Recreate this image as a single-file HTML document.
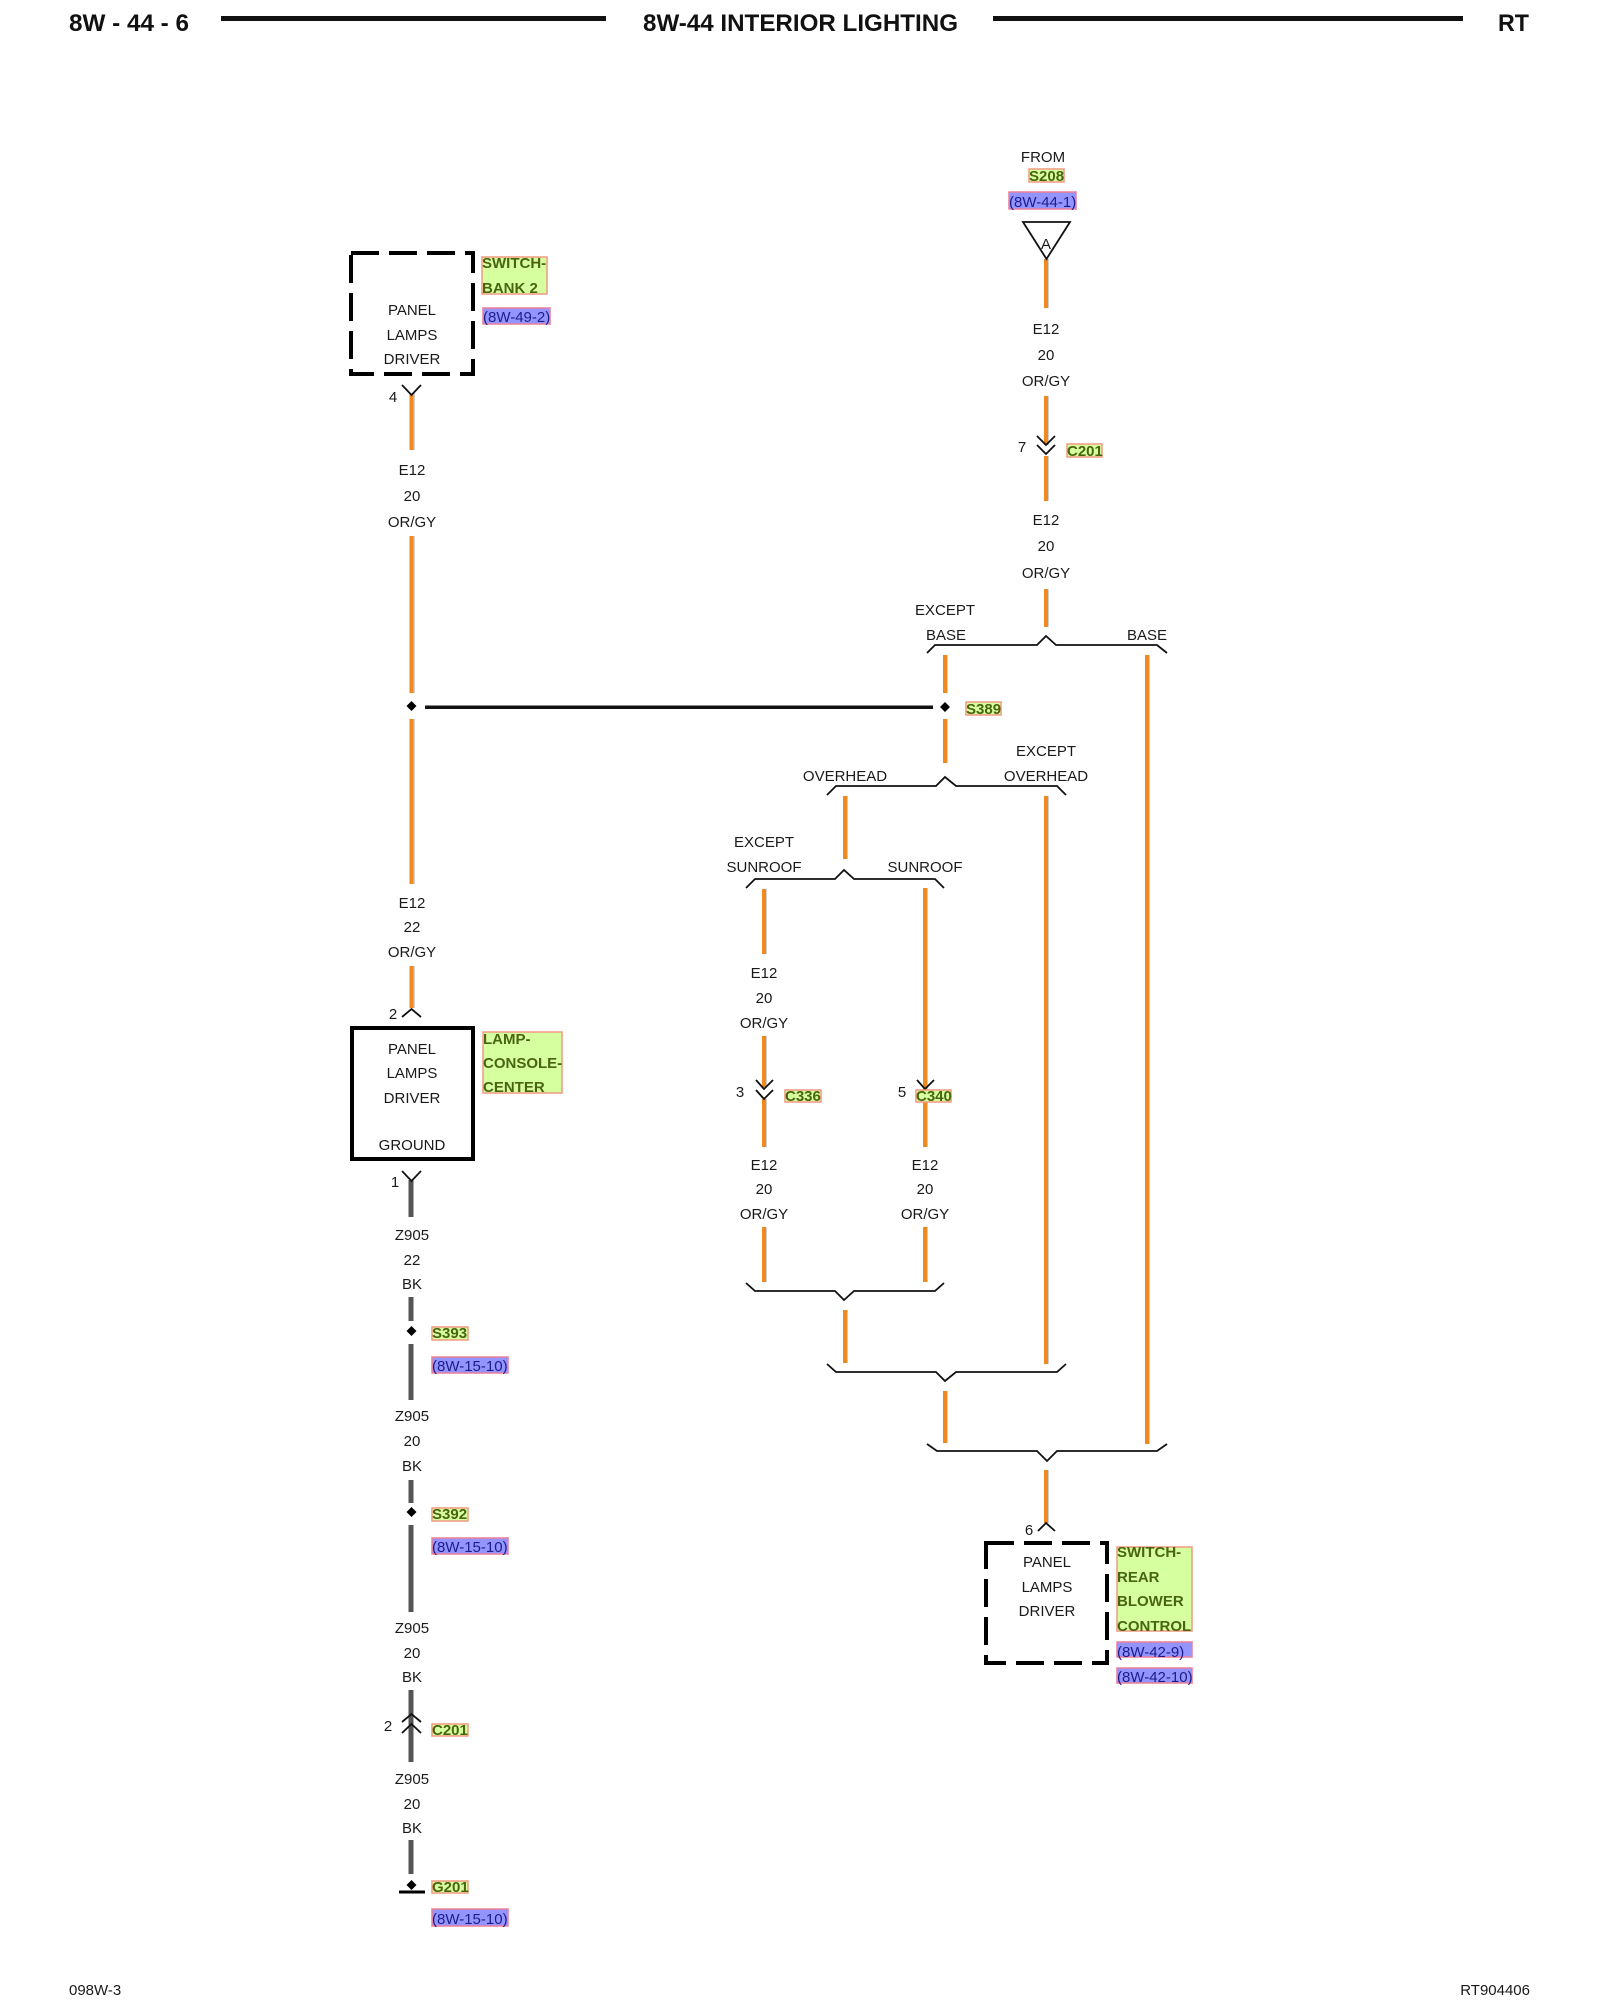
<!DOCTYPE html>
<html><head><meta charset="utf-8"><style>
html,body{margin:0;padding:0;background:#fff}
svg{display:block}
text{font-family:"Liberation Sans",sans-serif;font-size:15px;fill:#1a1a1a}
.m{text-anchor:middle}
.g{font-weight:bold;fill:#4a6410}
.b{fill:#1c1c8c}
.h{font-weight:bold;font-size:24px;fill:#111}
.or{stroke:#f08a1e;stroke-width:4;fill:none}
.sh{stroke:#cfcfcf;stroke-width:2;fill:none}
.bk{stroke:#555;stroke-width:5;fill:none}
.l{stroke:#111;stroke-width:1.8;fill:none}
.gb{fill:#d6ffa0;stroke:#f09a80;stroke-width:1.5}
.bb{fill:#9494ff;stroke:#ec7f9a;stroke-width:1.5}
.dash{fill:none;stroke:#000;stroke-width:4;stroke-dasharray:28 10}
</style></head><body>
<svg width="1600" height="2000" viewBox="0 0 1600 2000" xmlns="http://www.w3.org/2000/svg">
<rect width="1600" height="2000" fill="#fff"/>
<!-- header -->
<text class="h" x="69" y="31" textLength="120" lengthAdjust="spacingAndGlyphs">8W - 44 - 6</text>
<text class="h" x="643" y="31" textLength="315" lengthAdjust="spacingAndGlyphs">8W-44 INTERIOR LIGHTING</text>
<text class="h" x="1498" y="31" textLength="31" lengthAdjust="spacingAndGlyphs">RT</text>
<rect x="221" y="16" width="385" height="5" fill="#111"/>
<rect x="993" y="16" width="470" height="5" fill="#111"/>

<!-- shadows of orange wires -->
<path class="sh" d="M414 393V450M414 536V693M414 719V884M414 966V1008M1048 259V308M1048 396V445M1048 456V501M1048 589V627M947 655V693M947 719V763M1149 655V1444M1048 796V1364M847 796V859M766 889V954M766 1036V1087M766 1099V1147M766 1227V1282M927 888V1147M927 1227V1282M847 1310V1363M947 1391V1443M1048 1470V1523"/>
<!-- orange wires -->
<path class="or" d="M411.500 394V450M411.500 536V693M411.500 719V884M411.500 966V1008M1046 259V308M1046 396V445M1046 456V501M1046 589V627M945 655V693M945 719V763M1147 655V1444M1046 796V1364M845 796V859M764 889V954M764 1036V1087M764 1099V1147M764 1227V1282M925 888V1147M925 1227V1282M845 1310V1363M945 1391V1443M1046 1470V1523"/>
<!-- black wires -->
<path class="bk" d="M411 1180V1217M411 1297V1321M411 1344V1400M411 1480V1503M411 1525V1612M411 1690V1762M411 1840V1874"/>
<rect x="425" y="705.500" width="508" height="3.500" fill="#111"/>

<!-- boxes -->
<path class="dash" d="M351 253H473V374H351Z"/>
<rect x="352" y="1028" width="121" height="131" fill="none" stroke="#000" stroke-width="4"/>
<path class="dash" d="M986 1543H1107V1663H986Z"/>
<text class="m" x="412" y="315">PANEL</text><text class="m" x="412" y="340">LAMPS</text><text class="m" x="412" y="364">DRIVER</text>
<text class="m" x="412" y="1054">PANEL</text><text class="m" x="412" y="1078">LAMPS</text><text class="m" x="412" y="1103">DRIVER</text><text class="m" x="412" y="1150">GROUND</text>
<text class="m" x="1047" y="1567">PANEL</text><text class="m" x="1047" y="1592">LAMPS</text><text class="m" x="1047" y="1616">DRIVER</text>

<!-- connectors -->
<path class="l" d="M402 385L411.500 395L421 385M402 1017L411.500 1009L421 1017M402 1171L411.500 1181L421 1171M402 1722L411.500 1714L421 1722M402 1733L411.500 1724L421 1733"/>
<path class="l" d="M1037 436L1046 445L1055 436M1037 445L1046 454L1055 445M756 1080L764 1089L773 1080M756 1090L764 1099L773 1090M917 1080L925 1089L934 1080M1038 1531L1046 1523L1055 1531"/>
<path class="l" d="M1023 222H1070L1046.500 259Z" fill="#fff" stroke-width="2"/>
<text class="m" x="1046" y="249">A</text>
<!-- brackets -->
<path class="l" d="M927 653L935 645H1037L1046 636L1056 645H1157L1167 653"/>
<path class="l" d="M827 795L836 786H936L945 777L956 786H1057L1066 795"/>
<path class="l" d="M746 888L755 879H835L844 870L854 879H935L944 888"/>
<path class="l" d="M746 1283L755 1291H835L844 1300L854 1291H935L944 1283"/>
<path class="l" d="M827 1364L836 1372H936L945 1381L956 1372H1057L1066 1364"/>
<path class="l" d="M927 1444L937 1451H1037L1047 1461L1057 1451H1157L1167 1444"/>
<!-- diamonds -->
<path fill="#000" d="M411.500 701L416.500 706L411.500 711L406.500 706ZM945 702L950 707L945 712L940 707ZM411.500 1326L416.500 1331L411.500 1336L406.500 1331ZM411.500 1507L416.500 1512L411.500 1517L406.500 1512ZM411.500 1880L416.500 1885L411.500 1890L406.500 1885Z"/>
<rect x="399" y="1890.500" width="26" height="3" fill="#000"/>

<!-- wire labels -->
<text class="m" x="412" y="475">E12</text><text class="m" x="412" y="501">20</text><text class="m" x="412" y="527">OR/GY</text>
<text class="m" x="412" y="908">E12</text><text class="m" x="412" y="932">22</text><text class="m" x="412" y="957">OR/GY</text>
<text class="m" x="412" y="1240">Z905</text><text class="m" x="412" y="1265">22</text><text class="m" x="412" y="1289">BK</text>
<text class="m" x="412" y="1421">Z905</text><text class="m" x="412" y="1446">20</text><text class="m" x="412" y="1471">BK</text>
<text class="m" x="412" y="1633">Z905</text><text class="m" x="412" y="1658">20</text><text class="m" x="412" y="1682">BK</text>
<text class="m" x="412" y="1784">Z905</text><text class="m" x="412" y="1809">20</text><text class="m" x="412" y="1833">BK</text>
<text class="m" x="1043" y="162">FROM</text>
<text class="m" x="1046" y="334">E12</text><text class="m" x="1046" y="360">20</text><text class="m" x="1046" y="386">OR/GY</text>
<text class="m" x="1046" y="525">E12</text><text class="m" x="1046" y="551">20</text><text class="m" x="1046" y="578">OR/GY</text>
<text class="m" x="945" y="615">EXCEPT</text><text class="m" x="946" y="640">BASE</text><text class="m" x="1147" y="640">BASE</text>
<text class="m" x="1046" y="756">EXCEPT</text><text class="m" x="1046" y="781">OVERHEAD</text><text class="m" x="845" y="781">OVERHEAD</text>
<text class="m" x="764" y="847">EXCEPT</text><text class="m" x="764" y="872">SUNROOF</text><text class="m" x="925" y="872">SUNROOF</text>
<text class="m" x="764" y="978">E12</text><text class="m" x="764" y="1003">20</text><text class="m" x="764" y="1028">OR/GY</text>
<text class="m" x="764" y="1170">E12</text><text class="m" x="764" y="1194">20</text><text class="m" x="764" y="1219">OR/GY</text>
<text class="m" x="925" y="1170">E12</text><text class="m" x="925" y="1194">20</text><text class="m" x="925" y="1219">OR/GY</text>
<!-- pin numbers -->
<text class="m" x="393" y="402">4</text><text class="m" x="393" y="1019">2</text><text class="m" x="395" y="1187">1</text><text class="m" x="388" y="1731">2</text>
<text class="m" x="1022" y="452">7</text><text class="m" x="740" y="1097">3</text><text class="m" x="902" y="1097">5</text><text class="m" x="1029" y="1535">6</text>

<!-- green labels -->
<rect class="gb" x="482" y="257" width="65" height="37"/><text class="g" x="482" y="268">SWITCH-</text><text class="g" x="482" y="293">BANK 2</text>
<rect class="gb" x="483" y="1032" width="79" height="61"/><text class="g" x="483" y="1044">LAMP-</text><text class="g" x="483" y="1068">CONSOLE-</text><text class="g" x="483" y="1092">CENTER</text>
<rect class="gb" x="1117" y="1547" width="75" height="84"/><text class="g" x="1117" y="1557">SWITCH-</text><text class="g" x="1117" y="1582">REAR</text><text class="g" x="1117" y="1606">BLOWER</text><text class="g" x="1117" y="1631">CONTROL</text>
<rect class="gb" x="1029" y="169" width="35" height="13"/><text class="g" x="1029" y="181">S208</text>
<rect class="gb" x="1067" y="444" width="35" height="13"/><text class="g" x="1067" y="456">C201</text>
<rect class="gb" x="966" y="702" width="35" height="13"/><text class="g" x="966" y="714">S389</text>
<rect class="gb" x="785" y="1090" width="36" height="12"/><text class="g" x="785" y="1101">C336</text>
<rect class="gb" x="916" y="1090" width="35" height="12"/><text class="g" x="916" y="1101">C340</text>
<rect class="gb" x="432" y="1327" width="36" height="13"/><text class="g" x="432" y="1338">S393</text>
<rect class="gb" x="432" y="1508" width="36" height="13"/><text class="g" x="432" y="1519">S392</text>
<rect class="gb" x="432" y="1724" width="36" height="12"/><text class="g" x="432" y="1735">C201</text>
<rect class="gb" x="432" y="1881" width="36" height="12"/><text class="g" x="432" y="1892">G201</text>
<!-- blue labels -->
<rect class="bb" x="483" y="308" width="67" height="16"/><text class="b" x="483" y="322">(8W-49-2)</text>
<rect class="bb" x="1009" y="192" width="67" height="17"/><text class="b" x="1009" y="207">(8W-44-1)</text>
<rect class="bb" x="432" y="1357" width="76" height="16"/><text class="b" x="432" y="1371">(8W-15-10)</text>
<rect class="bb" x="432" y="1538" width="76" height="16"/><text class="b" x="432" y="1552">(8W-15-10)</text>
<rect class="bb" x="432" y="1909" width="76" height="17"/><text class="b" x="432" y="1924">(8W-15-10)</text>
<rect class="bb" x="1117" y="1642" width="75" height="15"/><text class="b" x="1117" y="1657">(8W-42-9)</text>
<rect class="bb" x="1117" y="1668" width="75" height="15"/><text class="b" x="1117" y="1682">(8W-42-10)</text>

<!-- footer -->
<text x="69" y="1995">098W-3</text>
<text x="1530" y="1995" text-anchor="end">RT904406</text>
</svg>
</body></html>
